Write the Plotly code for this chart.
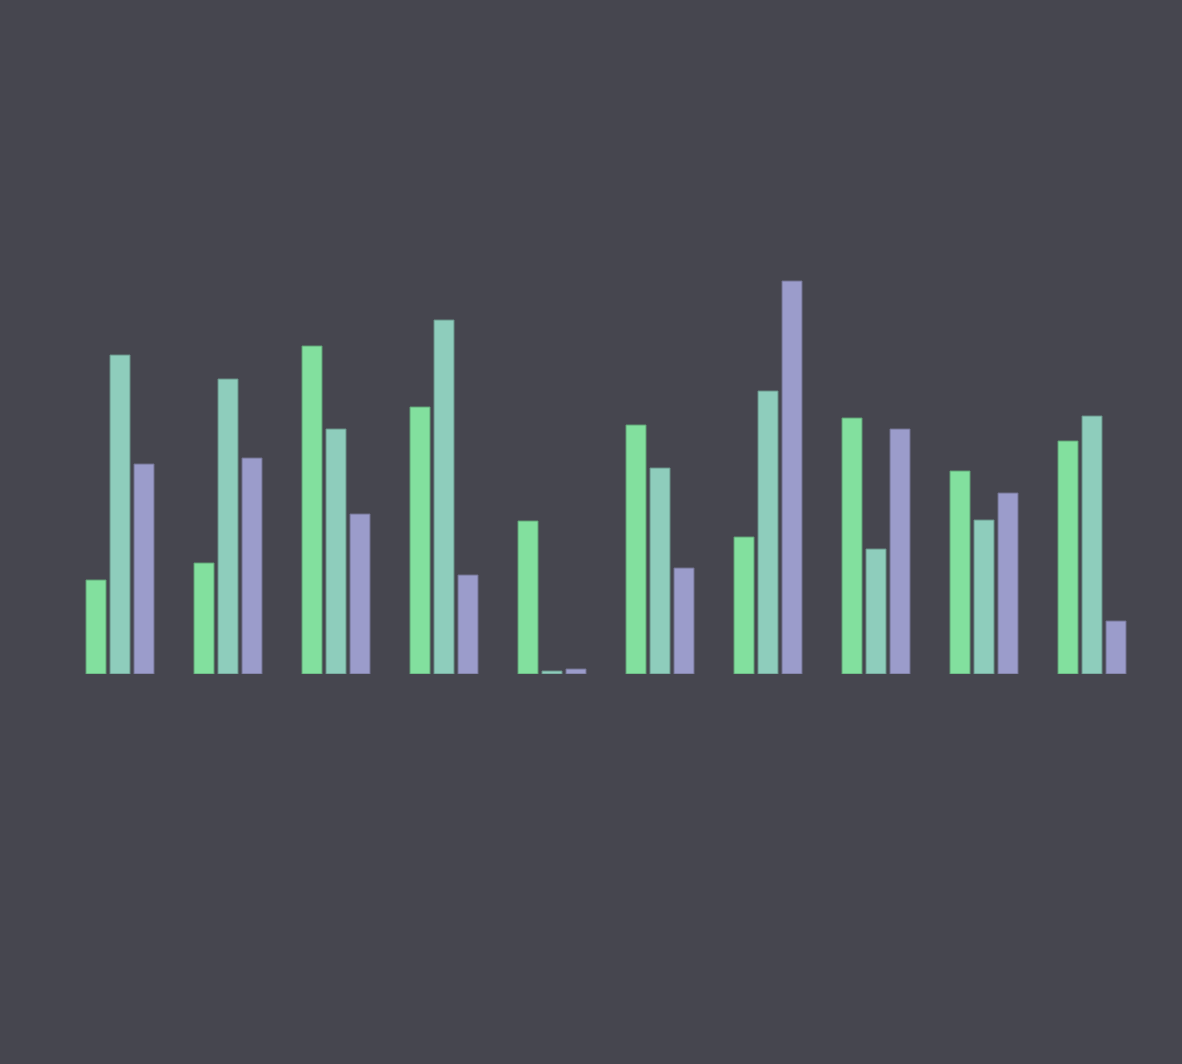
import plotly.graph_objects as go

categories = ["C1", "C2", "C3", "C4", "C5", "C6", "C7", "C8", "C9", "C10"]
series_a = [23.5, 27.75, 82.0, 66.75, 38.25, 62.25, 34.25, 64.0, 50.75, 58.25]
series_b = [79.75, 73.75, 61.25, 88.5, 0.75, 51.5, 70.75, 31.25, 38.5, 64.5]
series_c = [52.5, 54.0, 40.0, 24.75, 1.25, 26.5, 98.25, 61.25, 45.25, 13.25]

names = ["Series A", "Series B", "Series C"]
colors = ["#82e09e", "#8ecdbc", "#9b9ccb"]
edges = ["#5f9f74", "#678f86", "#70718f"]

fig = go.Figure()
for name, vals, col, edge in zip(names, [series_a, series_b, series_c], colors, edges):
    fig.add_trace(go.Bar(
        x=categories, y=vals, name=name,
        marker=dict(color=col, line=dict(color=edge, width=1)),
    ))

bg = "#46464f"
fig.update_layout(
    width=1182, height=1064,
    paper_bgcolor=bg, plot_bgcolor=bg,
    margin=dict(l=66, r=36, t=274, b=390),
    barmode="group", bargap=1/3, bargroupgap=1/6,
    showlegend=False,
    xaxis=dict(visible=False),
    yaxis=dict(visible=False, range=[0, 100]),
)
post = ("document.body.style.margin='0';document.body.style.padding='0';"
        "document.body.style.overflow='hidden';"
        "document.body.style.background='" + bg + "';"
        "document.documentElement.style.background='" + bg + "';")
fig.write_html("out.html", post_script=post, config={"displayModeBar": False})
